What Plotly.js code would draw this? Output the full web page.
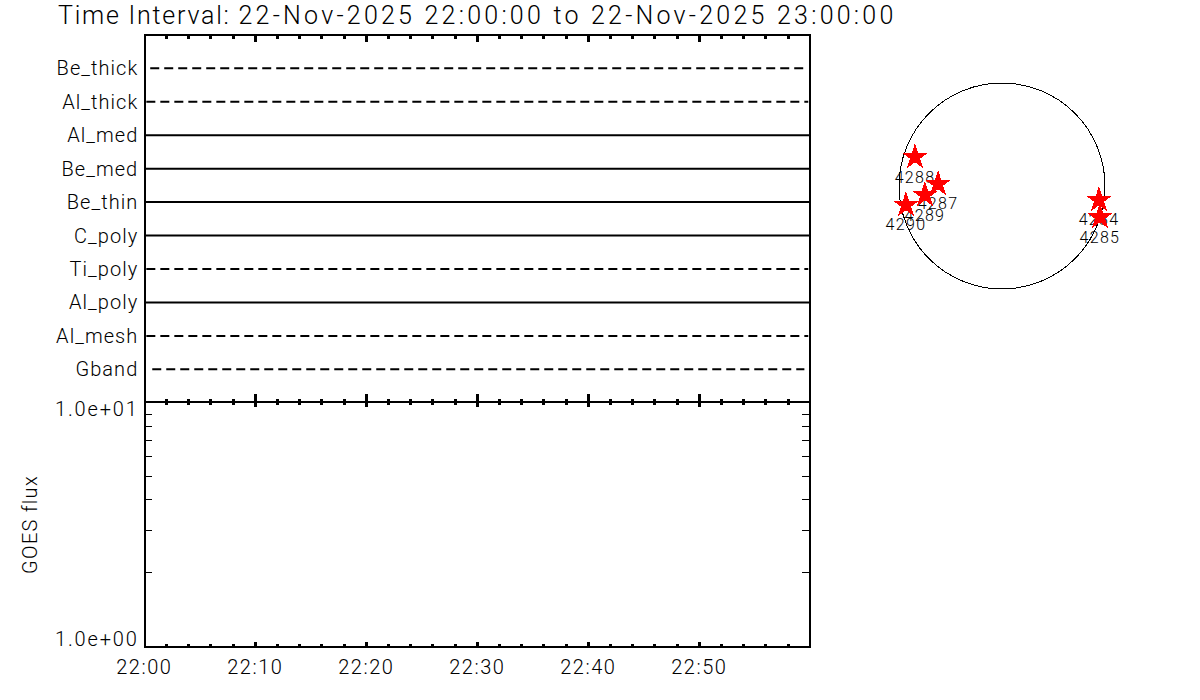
<!DOCTYPE html>
<html><head><meta charset="utf-8">
<script src="https://cdn.plot.ly/plotly-3.0.1.min.js"></script>
<style>
html,body{margin:0;padding:0;background:#fff}
.gtitle{letter-spacing:3.23px}
.ytick text{letter-spacing:1.05px}
.x2tick text{letter-spacing:1.5px}
.annotation-text{letter-spacing:1.85px}
.g-y2title text{letter-spacing:1.3px}
.textpoint text{letter-spacing:1.3px}
.shapelayer path,.scatterlayer .points path{shape-rendering:crispEdges}
</style></head><body><div id="chart"></div>
<script>
// Channel strips (top to bottom)
const channels=["Be_thick","Al_thick","Al_med","Be_med","Be_thin","C_poly","Ti_poly","Al_poly","Al_mesh","Gband"];
const channelStart=["22:00:32","22:00:11","22:00:00","22:00:00","22:00:00","22:00:00","22:00:11","22:00:00","22:00:11","22:00:43"];
const channelEnd=["22:59:33","22:59:49","22:59:59","22:59:59","22:59:59","22:59:59","22:59:49","22:59:59","22:59:49","22:59:28"];
const channelDash=["dash","dash","solid","solid","solid","solid","dash","solid","dash","dash"];
// Active regions, heliocentric position in arcsec
const regions=["4288","4287","4289","4290","4284","4285"];
const regionX=[-811,-596,-718,-895,904,913];
const regionY=[270,19,-84,-177,-130,-289];
const goesLabels=["1.0e+01","1.0e+00"];
const goesLabelValues=[1,0];
const goesMinorTicks=[2,3,4,5,6,7,8,9];
const majorTimes=["22:00","22:10","22:20","22:30","22:40","22:50"];
const minorTimes=["22:02","22:04","22:06","22:08","22:12","22:14","22:16","22:18","22:22","22:24","22:26","22:28","22:32","22:34","22:36","22:38","22:42","22:44","22:46","22:48","22:52","22:54","22:56","22:58"];
const titleLead="Time Interval: ";
const titleRest="22-Nov-2025 22:00:00 to 22-Nov-2025 23:00:00";
const day="2025-11-22 ";
const solarRadius=960;

const W=1200,H=700,FONT="Roboto",INK="#000";
const pxX=(a,b)=>[a/W,b/W], pxY=(top,bottom)=>[1-bottom/H,1-top/H];
const dashPattern="9px,5px";
const LEFT=144.3,RIGHT=810.3;
const star={symbol:"star",size:20,color:"#ff0000",line:{width:0}};

const traces=channels.map((c,i)=>({
  type:"scatter",mode:"lines",name:c,xaxis:"x",yaxis:"y",hoverinfo:"skip",
  x:[day+channelStart[i],day+channelEnd[i]],y:[c,c],
  line:{color:INK,width:2,dash:channelDash[i]==="dash"?dashPattern:"solid"}
}));
traces.push({type:"scatter",mode:"lines",name:"GOES flux",xaxis:"x2",yaxis:"y2",x:[],y:[]});
traces.push({type:"scatter",mode:"lines",name:"GOES flux top axis",xaxis:"x4",yaxis:"y2",x:[],y:[]});
traces.push({type:"scatter",mode:"lines",name:"Channel top axis",xaxis:"x5",yaxis:"y",x:[],y:[]});
// labels underneath, then stars on top
traces.push({type:"scatter",mode:"markers+text",xaxis:"x3",yaxis:"y3",x:regionX,y:regionY,text:regions,
  textposition:"bottom center",textfont:{family:FONT,size:16,weight:300,color:INK},marker:star,hoverinfo:"skip"});
traces.push({type:"scatter",mode:"markers",xaxis:"x3",yaxis:"y3",x:regionX,y:regionY,marker:star,hoverinfo:"skip"});

const at=t=>day+t+":00";
const timeAxis=(major,minor,extra)=>Object.assign({type:"date",range:[day+"22:00:00",day+"23:00:00"],tickmode:"array",tickvals:majorTimes.map(at),ticktext:majorTimes,
  ticks:"inside",ticklen:major,tickwidth:3,tickcolor:INK,linecolor:INK,linewidth:2,showline:true,showgrid:false,zeroline:false,showticklabels:false,
  minor:{tickmode:"array",tickvals:minorTimes.map(at),ticks:"inside",ticklen:minor,tickwidth:3,tickcolor:INK,showgrid:false},
  tickfont:{family:FONT,size:20,weight:300,color:INK}},extra);
const scale=solarRadius/103, half=150*scale;
const frameLine=x=>({type:"line",xref:"paper",yref:"paper",x0:x/W,x1:x/W,y0:1-648/H,y1:1-34/H,line:{color:INK,width:2},layer:"above"});
const layout={
  width:W,height:H,autosize:false,margin:{l:0,r:0,t:0,b:0,pad:0},paper_bgcolor:"#fff",plot_bgcolor:"rgba(0,0,0,0)",showlegend:false,
  title:{text:'<span style="letter-spacing:1.77px">'+titleLead+'</span>'+titleRest,x:58/W,xanchor:"left",xref:"paper",y:1-15/H,yanchor:"middle",yref:"paper",font:{family:FONT,size:25,weight:300,color:INK}},
  xaxis:timeAxis(7,2,{domain:pxX(LEFT,RIGHT),anchor:"y"}),
  xaxis5:timeAxis(6,3,{overlaying:"x",side:"top",anchor:"y"}),
  yaxis:{domain:pxY(36,401),anchor:"x",type:"category",categoryorder:"array",categoryarray:channels.slice().reverse(),range:[-0.947,9.967],
    ticks:"",showline:false,showgrid:false,zeroline:false,ticklabelstandoff:5,
    tickfont:{family:FONT,size:20,weight:300,color:INK}},
  xaxis2:timeAxis(4,2,{domain:pxX(LEFT,RIGHT),anchor:"y2",showticklabels:true,ticklabelstandoff:2}),
  xaxis4:timeAxis(4,2,{overlaying:"x2",side:"top",anchor:"y2"}),
  yaxis2:{domain:pxY(403,646),anchor:"x2",type:"log",range:[0,1],tickmode:"array",tickvals:goesMinorTicks,showticklabels:false,
    ticks:"inside",ticklen:8,tickwidth:1,tickcolor:INK,showline:false,mirror:"ticks",showgrid:false,zeroline:false,
    title:{text:"GOES flux",standoff:100,font:{family:FONT,size:20,weight:300,color:INK}}},
  xaxis3:{domain:pxX(852,1152),anchor:"y3",range:[-half,half],visible:false,fixedrange:true},
  yaxis3:{domain:pxY(36,336),anchor:"x3",range:[(186-336)*scale,(186-36)*scale],visible:false,fixedrange:true},
  shapes:[
    {type:"circle",xref:"x3",yref:"y3",x0:-solarRadius,x1:solarRadius,y0:-solarRadius,y1:solarRadius,line:{color:INK,width:1},layer:"below"},
    frameLine(145),frameLine(810)],
  annotations:goesLabels.map((t,i)=>({text:t,xref:"paper",yref:"y2",x:139/W,y:goesLabelValues[i],xanchor:"right",yanchor:"middle",
    yshift:goesLabelValues[i]?-6:7,showarrow:false,borderpad:0,borderwidth:0,font:{family:FONT,size:20,weight:300,color:INK}}))
};
Plotly.newPlot("chart",traces,layout,{staticPlot:true,displayModeBar:false});
</script></body></html>
